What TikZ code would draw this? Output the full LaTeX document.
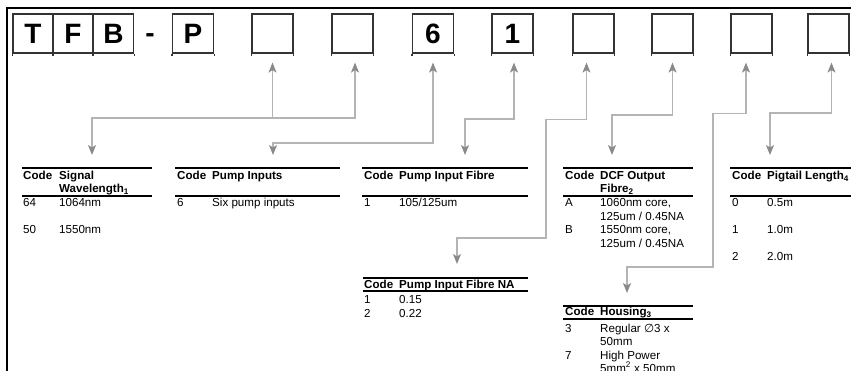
\documentclass[tikz,border=0pt]{standalone}
\usepackage{fontspec}
\setmainfont{Liberation Sans}
\newfontfamily\symfont{DejaVu Sans}
\usetikzlibrary{arrows.meta}
\definecolor{linegray}{HTML}{B4B4B4}
\definecolor{tipgray}{HTML}{8A8A8A}
\newcommand\tabfont{\fontsize{11.6}{13.5}\selectfont}
\tikzset{gtip/.tip={Stealth[length=10pt,width=8pt,inset=2.5pt,color=tipgray]}}

\begin{document}
\begin{tikzpicture}[x=1pt,y=-1pt,
	cell/.style={anchor=base west,inner sep=0pt,font=\tabfont},
	head/.style={cell,font=\tabfont\bfseries},
	codebox/.style={draw=black!80,line width=1.2pt,minimum width=41pt,minimum height=39pt,inner sep=0pt,font=\fontsize{28}{28}\selectfont\bfseries},
	tabrule/.style={line width=1.4pt},
	conn/.style={draw=linegray,line width=1.3pt},
	both/.style={conn,gtip-gtip},
	up/.style={conn,-gtip}]
			%%%%% FRAME %%%%%
			\useasboundingbox (0,0) rectangle (851,371);
			\draw[line width=1.3pt] (7,371) -- (7,8) -- (851,8);
			
			%%%%% CODE BOXES %%%%%
			\node[codebox,minimum width=40pt] (b1) at (33,33.5) {T};
			\node[codebox,minimum width=40pt] (b2) at (73,33.5) {F};
			\node[codebox,minimum width=40pt] (b3) at (113.5,33.5) {B};
			\node[inner sep=0pt,anchor=base,font=\fontsize{28}{28}\selectfont\bfseries] (hyph) at (150,43) {-};
			\node[codebox] (b4) at (193,33.5) {P};
			\node[codebox] (b5) at (272.5,33.5) {};
			\node[codebox] (b6) at (352.5,33.5) {};
			\node[codebox] (b7) at (433,33.5) {6};
			\node[codebox] (b8) at (512.5,33.5) {1};
			\node[codebox] (b9) at (593.5,33.5) {};
			\node[codebox] (b10) at (672.5,33.5) {};
			\node[codebox] (b11) at (751.5,33.5) {};
			\node[codebox] (b12) at (828.5,33.5) {};
			\foreach \i in {1,...,12}
				\draw[black!80,line width=1.2pt] (b\i.south west) -- ++(0,2.5) (b\i.south east) -- ++(0,2.5);
			
			%%%%% SIGNAL WAVELENGTH %%%%%
			\draw[tabrule] (22,168) -- (152,168) (22,196) -- (152,196);
			\coordinate (sig) at (92,155);
			\node[head] (sighead) at (23,180) {Code};
			\node[head] at (59,180) {Signal};
			\node[head] at (59,193) {Wavelength\textsubscript{1}};
			\node[cell] at (23,207) {64};
			\node[cell] at (59,207) {1064nm};
			\node[cell] at (23,234) {50};
			\node[cell] at (59,234) {1550nm};
			
			%%%%% PUMP INPUTS %%%%%
			\draw[tabrule] (175,168) -- (340,168) (175,196) -- (340,196);
			\coordinate (pin) at (273,155);
			\node[head] (pinhead) at (177,180) {Code};
			\node[head] at (212,180) {Pump Inputs};
			\node[cell] at (177,207) {6};
			\node[cell] at (212,207) {Six pump inputs};
			
			%%%%% PUMP INPUT FIBRE %%%%%
			\draw[tabrule] (362,168) -- (528,168) (362,196) -- (528,196);
			\coordinate (pif) at (465,155);
			\node[head] (pifhead) at (364,180) {Code};
			\node[head] at (399,180) {Pump Input Fibre};
			\node[cell] at (364,207) {1};
			\node[cell] at (399,207) {105/125um};
			
			%%%%% DCF OUTPUT FIBRE %%%%%
			\draw[tabrule] (563,168) -- (693,168) (563,196) -- (693,196);
			\coordinate (dcf) at (612,155);
			\node[head] (dcfhead) at (565,180) {Code};
			\node[head] at (600,180) {DCF Output};
			\node[head] at (600,193) {Fibre\textsubscript{2}};
			\node[cell] at (565,207) {A};
			\node[cell] at (600,207) {1060nm core,};
			\node[cell] at (600,220.5) {125um / 0.45NA};
			\node[cell] at (565,234) {B};
			\node[cell] at (600,234) {1550nm core,};
			\node[cell] at (600,247.5) {125um / 0.45NA};
			
			%%%%% PIGTAIL LENGTH %%%%%
			\draw[tabrule] (730,168) -- (851,168) (730,196) -- (851,196);
			\coordinate (pig) at (770,155);
			\node[head] (pighead) at (732,180) {Code};
			\node[head] at (767,180) {Pigtail Length\textsubscript{4}};
			\node[cell] at (732,207) {0};
			\node[cell] at (767,207) {0.5m};
			\node[cell] at (732,234) {1};
			\node[cell] at (767,234) {1.0m};
			\node[cell] at (732,261) {2};
			\node[cell] at (767,261) {2.0m};
			
			%%%%% PUMP INPUT FIBRE NA %%%%%
			\draw[tabrule] (363,278) -- (528,278) (363,291) -- (528,291);
			\coordinate (na) at (457,264);
			\node[head] (nahead) at (364,289) {Code};
			\node[head] at (399,289) {Pump Input Fibre NA};
			\node[cell] at (364,303) {1};
			\node[cell] at (399,303) {0.15};
			\node[cell] at (364,317) {2};
			\node[cell] at (399,317) {0.22};
			
			%%%%% HOUSING %%%%%
			\draw[tabrule] (563,306) -- (693,306) (563,319) -- (693,319);
			\coordinate (hsg) at (627,293);
			\node[head] (hsghead) at (565,316) {Code};
			\node[head] at (600,316) {Housing\textsubscript{3}};
			\node[cell] at (565,332) {3};
			\node[cell] at (600,332) {Regular {\symfont ∅}3 x};
			\node[cell] at (600,345.5) {50mm};
			\node[cell] at (565,359) {7};
			\node[cell] at (600,359) {High Power};
			\node[cell] at (600,372) {5mm\textsuperscript{2} x 50mm};
			
			%%%%% CONNECTORS %%%%%
			\draw[both] (sig) -- ++(0,-37) -| ([shift={(2.5pt,-9pt)}]b6.south);
			\draw[up] ([yshift=-65pt]b5.south) -- ([yshift=-9pt]b5.south);
			\draw[both] (pin) -- ++(0,-12) -| ([yshift=-9pt]b7.south);
			\draw[both] (pif) -- ++(0,-36) -| ([shift={(1.5pt,-9pt)}]b8.south);
			\draw[both] (na) -- ++(0,-26) -- ++(89,0) |- ([shift={(-7pt,-66pt)}]b9.south) -- ([shift={(-7pt,-9pt)}]b9.south);
			\draw[both] (dcf) -- ++(0,-40) -| ([yshift=-9pt]b10.south);
			\draw[both] (hsg) -- ++(0,-26) -- ++(86,0) |- ([shift={(-5.5pt,-60pt)}]b11.south) -- ([shift={(-5.5pt,-9pt)}]b11.south);
			\draw[both] (pig) -- ++(0,-42) -| ([shift={(3pt,-9pt)}]b12.south);
		\end{tikzpicture}
\end{document}
